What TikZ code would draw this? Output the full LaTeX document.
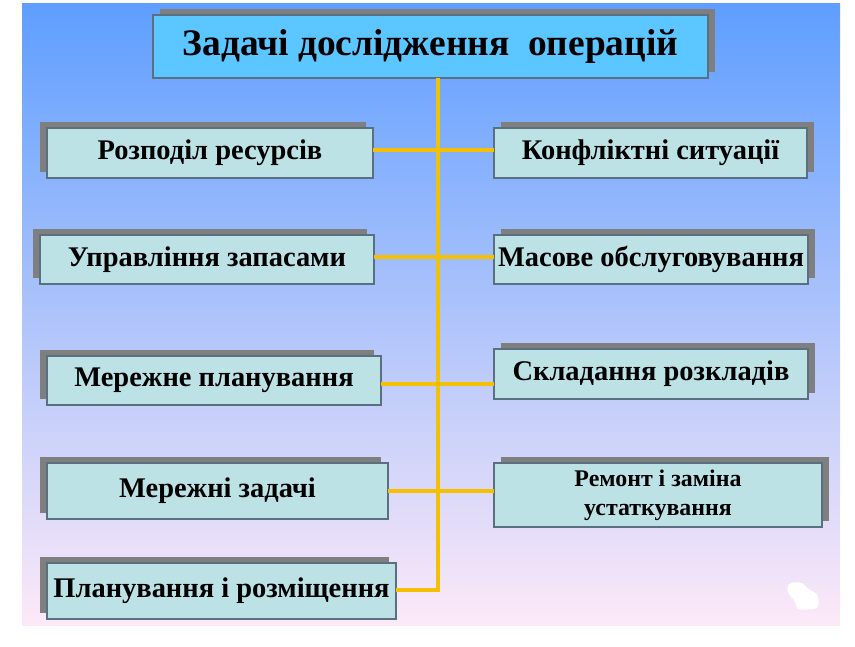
\documentclass[tikz,border=0pt]{standalone}
\usepackage{fontspec}
\setmainfont{Liberation Serif}
\usetikzlibrary{calc}
\definecolor{bgtop}{HTML}{5E9EFF}
\definecolor{bgmid}{HTML}{9DC8FF}
\definecolor{bgbot}{HTML}{FDE9F8}
\definecolor{titlefill}{HTML}{5BC6FF}
\definecolor{boxfill}{HTML}{BDE2E6}
\definecolor{boxline}{HTML}{5A7080}
\definecolor{shadowc}{HTML}{7F7F7F}
\definecolor{linkc}{HTML}{F5C000}
\tikzset{
  boxnode/.style={draw=boxline, line width=0.6pt, fill=boxfill, inner sep=0pt, outer sep=0pt,
    align=center, font=\bfseries\fontsize{16.2}{19}\selectfont},
  titlenode/.style={boxnode, fill=titlefill, font=\bfseries\fontsize{21.3}{25}\selectfont},
  smallnode/.style={boxnode, font=\bfseries\fontsize{13.6}{16.5}\selectfont},
  shadowbox/.style={fill=shadowc, draw=none},
  link/.style={draw=linkc, line width=1.9pt}
}
% \mkbox{name}{x1}{y1}{x2}{y2}{dx}{style}{text}
\newcommand{\mkbox}[8]{%
  \fill[shadowbox] (#2+#6,#3-6) rectangle (#4+#6,#5-6);
  \node[#7, minimum width={(#4-#2)*0.02cm}, minimum height={(#5-#3)*0.02cm}]
    (#1) at ({(#2+#4)/2},{(#3+#5)/2}) {#8};%
}
\begin{document}
\begin{tikzpicture}[x=0.02cm,y=-0.02cm]
\useasboundingbox (0,0) rectangle (855,646);
\shade[top color=bgtop, middle color=bgmid, bottom color=bgbot] (22,3) rectangle (840,625);
% white blob
\fill[white, rounded corners=3pt] (787,583) -- (803,582) -- (808,590) -- (818,593) -- (819,609) -- (796,610) -- (795,598) -- (788,596) -- cycle;
\coordinate (corner) at (438,590);
% boxes
\mkbox{title}{153}{15}{708}{78}{7}{titlenode}{Задачі дослідження\ \ операцій}
\mkbox{l1}{47}{128}{373}{178}{-7}{boxnode}{Розподіл ресурсів}
\mkbox{l2}{40}{235}{374}{284}{-7}{boxnode}{Управління запасами}
\mkbox{l3}{47}{356}{381}{405}{-7}{boxnode}{Мережне планування}
\mkbox{l4}{47}{463}{388}{519}{-7}{boxnode}{Мережні задачі}
\mkbox{l5}{47}{563}{396}{619}{-7}{boxnode}{Планування і розміщення}
\mkbox{r1}{494}{128}{807}{178}{7}{boxnode}{Конфліктні ситуації}
\mkbox{r2}{494}{235}{808}{284}{7}{boxnode}{Масове обслуговування}
\mkbox{r3}{494}{349}{808}{399}{7}{boxnode}{Складання розкладів}
\mkbox{r4}{494}{463}{822}{527}{7}{smallnode}{Ремонт і заміна\\устаткування}
% links
\draw[link] (title.south -| corner) -- (corner) -- (l5.east |- corner);
\draw[link] (l1.east |- 0,150) -- (r1.west |- 0,150);
\draw[link] (l2.east |- 0,257) -- (r2.west |- 0,257);
\draw[link] (l3.east |- 0,384) -- (r3.west |- 0,384);
\draw[link] (l4.east |- 0,491) -- (r4.west |- 0,491);
\end{tikzpicture}
\end{document}
